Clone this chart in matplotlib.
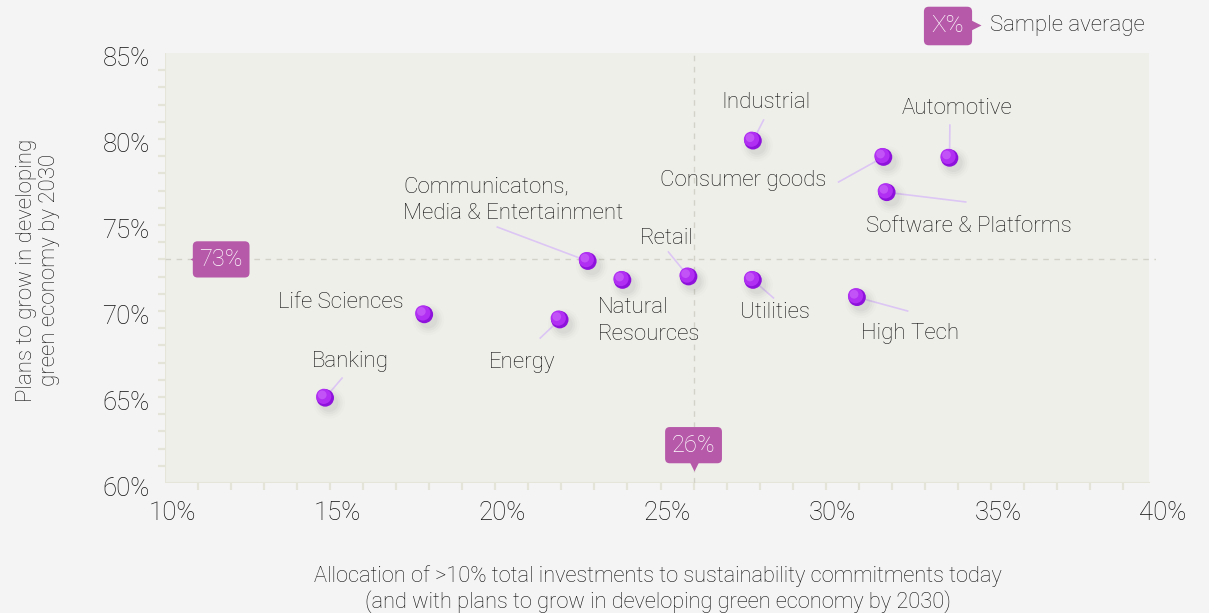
import matplotlib
matplotlib.use("Agg")
import matplotlib.pyplot as plt
from matplotlib.patches import Rectangle
from matplotlib.transforms import ScaledTranslation

plt.rcParams['font.family'] = ['Roboto', 'DejaVu Sans']
plt.rcParams['font.weight'] = 'light'

# share of investment to sustainability (x) vs plans to grow (y), in %
sectors = ["Banking", "Life Sciences", "Energy", "Communicatons,\nMedia & Entertainment",
           "Natural\nResources", "Retail", "Utilities", "High Tech", "Industrial",
           "Consumer goods", "Software & Platforms", "Automotive"]
alloc = [14.85, 17.85, 21.95, 22.8, 23.85, 25.85, 27.8, 30.95, 27.8, 31.75, 31.85, 33.75]
plans = [64.95, 69.8, 69.5, 72.9, 71.8, 72.0, 71.8, 70.8, 79.9, 78.95, 76.9, 78.9]
avg_alloc = 26
avg_plans = 73
xticks = [10, 15, 20, 25, 30, 35, 40]
yticks = [60, 65, 70, 75, 80, 85]

# label placement: (x, y, ha, leader end or None)
label_pos = {
    "Banking": (15.61, 67.09, "center", (15.36, 66.1)),
    "Life Sciences": (17.21, 70.47, "right", None),
    "Energy": (20.82, 67.03, "center", (21.36, 68.43)),
    "Communicatons,\nMedia & Entertainment": (17.21, 76.45, "left", (20.06, 74.88)),
    "Natural\nResources": (23.09, 69.42, "left", None),
    "Retail": (25.18, 74.24, "center", (25.24, 73.43)),
    "Utilities": (28.45, 69.94, "center", (28.42, 70.76)),
    "High Tech": (32.55, 68.72, "center", (32.48, 70.0)),
    "Industrial": (28.18, 82.15, "center", (28.12, 81.1)),
    "Consumer goods": (30.03, 77.56, "right", (30.39, 77.5)),
    "Software & Platforms": (34.33, 74.94, "center", (34.24, 76.34)),
    "Automotive": (33.97, 81.8, "center", (33.76, 80.81)),
}

page = '#f4f4f4'
panel = '#efefea'
badge = '#b659a9'
tickc = '#e5e4d9'
txt = '#111111'

fig = plt.figure(figsize=(12.09, 6.13), dpi=100)
fig.patch.set_facecolor(page)
ax = fig.add_axes([165/1209, 1-483/613, (1156-165)/1209, (483-53)/613])
ax.set_facecolor(page)
ax.set_xlim(10, 40)
ax.set_ylim(60, 85)
for s in ax.spines.values():
    s.set_visible(False)

ax.add_patch(Rectangle((10, 60), 29.8, 25, facecolor=panel, edgecolor='none', zorder=0))
ax.plot([10, 39.8], [60, 60], color='#e6e5da', lw=1.5, zorder=1)
ax.plot([10, 10], [60, 85], color='#e6e5da', lw=1.5, zorder=1)

# ticks
ax.set_xticks(xticks)
ax.set_xticklabels([f"{v}%" for v in xticks])
ax.set_yticks(yticks)
ax.set_yticklabels([f"{v}%" for v in yticks])
ax.set_xticks(list(range(11, 40)), minor=True)
ax.set_yticks(list(range(61, 85)), minor=True)
ax.xaxis.remove_overlapping_locs = False
ax.yaxis.remove_overlapping_locs = False
ax.tick_params(which='major', length=0, labelsize=18.5, labelcolor=txt)
ax.tick_params(axis='x', which='major', pad=13)
ax.tick_params(axis='y', which='major', pad=11)
ax.tick_params(which='minor', length=5, width=1.6, color=tickc, direction='out')
for lab in ax.get_xticklabels():
    lab.set_transform(lab.get_transform() + ScaledTranslation(0.07, 0, fig.dpi_scale_trans))
for lab in ax.get_yticklabels():
    lab.set_transform(lab.get_transform() + ScaledTranslation(0, -0.04, fig.dpi_scale_trans))

# sample average guides
ax.axhline(avg_plans, color='#d3d2c9', lw=1, ls=(0, (4, 4)), zorder=1)
ax.axvline(avg_alloc, color='#d3d2c9', lw=1, ls=(0, (4, 4)), zorder=1)

bprops = dict(boxstyle='round,pad=0.28,rounding_size=0.2', facecolor=badge, edgecolor='none')
ax.text(11.7, avg_plans, f"{avg_plans}%", color='white', fontsize=17,
        ha='center', va='center', bbox=bprops, zorder=6)
ax.plot(10.95, avg_plans, marker='<', ms=8, color=badge, mec='none', zorder=6)
ax.text(avg_alloc, 62.2, f"{avg_alloc}%", color='white', fontsize=17,
        ha='center', va='center', bbox=bprops, zorder=6)
ax.plot(avg_alloc, 61.05, marker='v', ms=8, color=badge, mec='none', zorder=6)

# legend badge
xprops = dict(boxstyle='round,pad=0.32,rounding_size=0.2', facecolor=badge, edgecolor='none')
fig.text(948/1209, 1-26/613, "X%", color='white', fontsize=17.5,
         ha='center', va='center', bbox=xprops)
fig.lines.append(plt.Line2D([976/1209], [1-25/613], marker='>', ms=7, color=badge,
                            mec='none', transform=fig.transFigure))
fig.text(990/1209, 1-26/613, "Sample average", color=txt, fontsize=16,
         ha='left', va='center')

# leader lines and labels
for name, x, y in zip(sectors, alloc, plans):
    lx, ly, ha, end = label_pos[name]
    if end is not None:
        ax.plot([x, end[0]], [y, end[1]], color='#dcc6f4', lw=1.2, zorder=2)
    ax.text(lx, ly, name, ha=ha, va='center', fontsize=16,
            color=txt, linespacing=1.35, zorder=5)

# soft shadow under each ball
for sz, a in [(520, 0.025), (380, 0.035), (260, 0.05), (170, 0.06)]:
    off = ScaledTranslation(0.04, -0.05, fig.dpi_scale_trans)
    ax.scatter(alloc, plans, s=sz, color='#707070', alpha=a, edgecolors='none',
               transform=ax.transData + off, zorder=3)

# balls
ax.scatter(alloc, plans, s=160, color='#8f12dc', edgecolors='none', zorder=4)
hl = ScaledTranslation(-0.015, 0.015, fig.dpi_scale_trans)
ax.scatter(alloc, plans, s=120, color='#b02ff2', edgecolors='none',
           transform=ax.transData + hl, zorder=4)
hl2 = ScaledTranslation(-0.03, 0.03, fig.dpi_scale_trans)
ax.scatter(alloc, plans, s=40, color='#cf6cfb', alpha=0.6, edgecolors='none',
           transform=ax.transData + hl2, zorder=4)

fig.text(38/1209, 1-270/613, "Plans to grow in developing\ngreen economy by 2030",
         rotation=90, ha='center', va='center', fontsize=16,
         color=txt, linespacing=1.1)
fig.text(658/1209, 1-589/613,
         "Allocation of >10% total investments to sustainability commitments today\n"
         "(and with plans to grow in developing green economy by 2030)",
         ha='center', va='center', fontsize=15.7, color=txt,
         linespacing=1.2)

fig.savefig("out.png", dpi=100, facecolor=page)
